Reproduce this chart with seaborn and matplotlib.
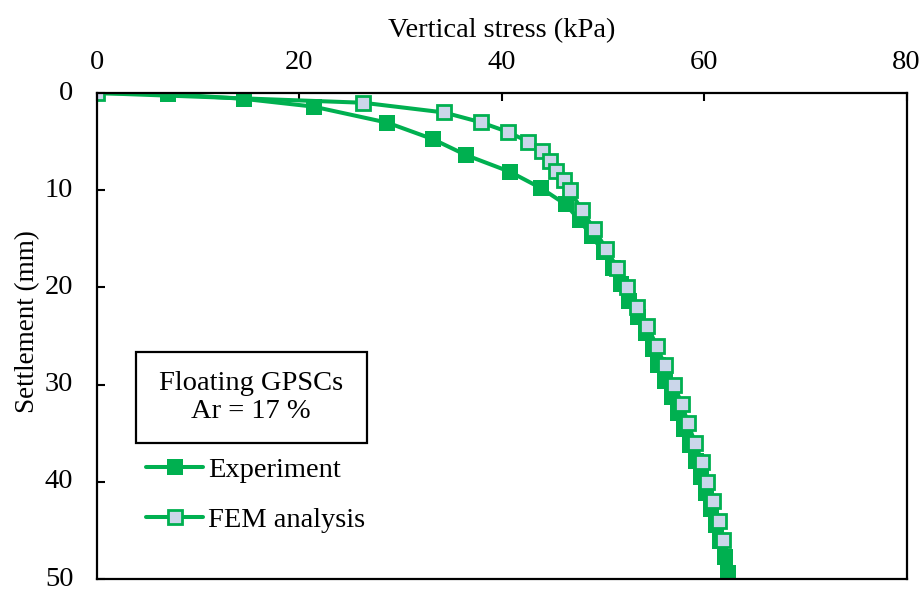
import matplotlib
matplotlib.use("Agg")
import matplotlib.pyplot as plt
from matplotlib.patches import Rectangle
import seaborn as sns
import pandas as pd

# Experiment (filled squares)
exp_stress = [0.0, 7.0, 14.5, 21.4, 28.7, 33.2, 36.5, 40.8, 43.9, 46.3,
              47.7, 48.9, 50.1, 51.0, 51.8, 52.6, 53.5, 54.3, 54.9, 55.4,
              56.1, 56.8, 57.4, 58.0, 58.6, 59.2, 59.7, 60.2, 60.7, 61.2,
              61.6, 62.1, 62.4]
exp_settle = [0.0, 0.1, 0.6, 1.4, 3.05, 4.75, 6.4, 8.1, 9.8, 11.45,
              13.1, 14.75, 16.4, 18.05, 19.7, 21.35, 23.0, 24.65, 26.3, 27.95,
              29.6, 31.25, 32.9, 34.55, 36.2, 37.85, 39.5, 41.15, 42.8, 44.45,
              46.1, 47.75, 49.4]

# FEM analysis (open squares)
fem_stress = [0.0, 26.3, 34.3, 37.9, 40.6, 42.6, 44.0, 44.75, 45.4, 46.1,
              46.7, 47.9, 49.1, 50.3, 51.4, 52.4, 53.4, 54.4, 55.3, 56.1,
              57.0, 57.8, 58.4, 59.1, 59.8, 60.3, 60.9, 61.5, 61.9]
fem_settle = [0, 1, 2, 3, 4, 5, 6, 7, 8, 9,
              10, 12, 14, 16, 18, 20, 22, 24, 26, 28,
              30, 32, 34, 36, 38, 40, 42, 44, 46]

x_ticks = [0, 20, 40, 60, 80]
y_ticks = [0, 10, 20, 30, 40, 50]
series_names = ["Experiment", "FEM analysis"]
annotation = "Floating GPSCs\nAr = 17 %"

sns.set_theme(style="white")
plt.rcParams["font.family"] = ["Liberation Serif", "DejaVu Serif"]
plt.rcParams["text.color"] = "black"
plt.rcParams["axes.labelcolor"] = "black"
plt.rcParams["xtick.color"] = "black"
plt.rcParams["ytick.color"] = "black"

green = "#00B050"
fs = 20.5

df_exp = pd.DataFrame({"stress": exp_stress, "settle": exp_settle})
df_fem = pd.DataFrame({"stress": fem_stress, "settle": fem_settle})

fig = plt.figure(figsize=(9.2, 5.91), dpi=100)
ax = fig.add_axes([0.1054, 0.0203, 0.88, 0.8223])

sns.lineplot(data=df_exp, x="stress", y="settle", ax=ax, sort=False,
             color=green, linewidth=2.9, marker="s", markersize=12,
             markerfacecolor=green, markeredgecolor=green, markeredgewidth=0,
             label=series_names[0])
sns.lineplot(data=df_fem, x="stress", y="settle", ax=ax, sort=False,
             color=green, linewidth=2.9, marker="s", markersize=10.5,
             markerfacecolor="#CBD6EA", markeredgecolor=green, markeredgewidth=2.0,
             label=series_names[1])

ax.set_xlim(0, 80)
ax.set_ylim(50, 0)
ax.set_xticks(x_ticks)
ax.set_yticks(y_ticks)
ax.xaxis.tick_top()
ax.xaxis.set_label_position("top")
ax.tick_params(axis="x", direction="in", length=6, width=1.5, labelsize=fs, pad=13,
               top=True, bottom=False, colors="black")
ax.tick_params(axis="y", direction="in", length=6, width=1.5, labelsize=fs, pad=17,
               left=True, right=False, colors="black")
for lab in ax.get_yticklabels():
    lab.set_verticalalignment("center")
for sp in ax.spines.values():
    sp.set_color("black")
    sp.set_linewidth(1.6)

ax.set_xlabel("Vertical stress (kPa)", fontsize=fs, labelpad=9)
ax.set_ylabel("Settlement (mm)", fontsize=19.5)
ax.yaxis.set_label_coords(-0.070, 0.529)

ax.add_patch(Rectangle((0.0482, 0.2798), 0.2855, 0.1872, transform=ax.transAxes,
                       facecolor="white", edgecolor="black", linewidth=1.6, zorder=5))
ax.text(0.1904, 0.374, annotation, transform=ax.transAxes, ha="center", va="center",
        fontsize=fs, linespacing=1.15, zorder=6)

ax.legend(loc="upper left", bbox_to_anchor=(0.0606, 0.251), frameon=False,
          fontsize=fs, handlelength=2.0, handletextpad=0.18, labelspacing=0.83,
          borderaxespad=0, borderpad=0)

fig.savefig("out.png", dpi=100)
